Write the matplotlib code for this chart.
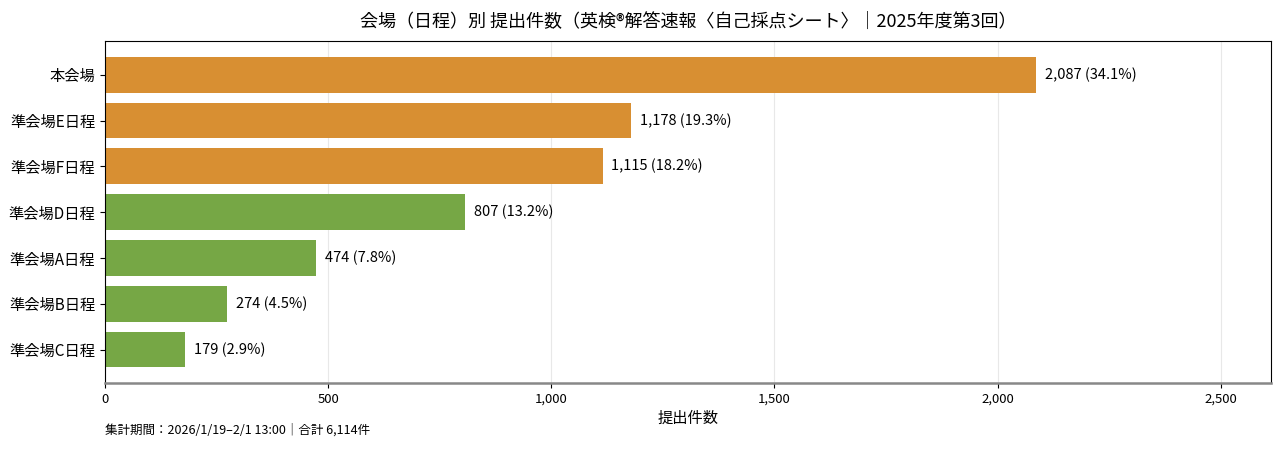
import matplotlib
matplotlib.use("Agg")
import matplotlib.pyplot as plt
from matplotlib.ticker import FuncFormatter

plt.rcParams['font.family'] = ['Noto Sans CJK JP', 'DejaVu Sans']

# データ
venues = ["本会場", "準会場E日程", "準会場F日程", "準会場D日程", "準会場A日程", "準会場B日程", "準会場C日程"]
counts = [2087, 1178, 1115, 807, 474, 274, 179]
shares = [34.1, 19.3, 18.2, 13.2, 7.8, 4.5, 2.9]
groups = ["orange", "orange", "orange", "green", "green", "green", "green"]

palette = {"orange": "#D88F32", "green": "#76A745"}
colors = [palette[g] for g in groups]
total = sum(counts)

fig, ax = plt.subplots(figsize=(12.8, 4.49), dpi=100)
fig.subplots_adjust(left=0.082, right=0.993, top=0.908, bottom=0.147)

y = list(range(len(venues)))
ax.barh(y, counts, height=0.78, color=colors, zorder=2)
ax.set_yticks(y)
ax.set_yticklabels(venues, fontsize=11)
ax.invert_yaxis()

for yi, c, s in zip(y, counts, shares):
    ax.text(c + 20, yi, f"{c:,} ({s}%)", va="center", ha="left", fontsize=10.5)

ax.set_xlim(0, max(counts) * 1.252)
ax.set_xticks([0, 500, 1000, 1500, 2000, 2500])
ax.xaxis.set_major_formatter(FuncFormatter(lambda v, p: f"{int(v):,}"))
ax.tick_params(axis="x", labelsize=9.5)
ax.grid(axis="x", color="#e8e8e8", linewidth=0.8, zorder=0)
ax.set_axisbelow(True)
ax.set_xlabel("提出件数", fontsize=11, labelpad=3)

ax.spines["bottom"].set_color("#888888")
ax.spines["bottom"].set_linewidth(1.8)

ax.set_title("会場（日程）別 提出件数（英検®解答速報〈自己採点シート〉｜2025年度第3回）", fontsize=13, pad=10)

fig.text(0.082, 0.035, f"集計期間：2026/1/19–2/1 13:00｜合計 {total:,}件", fontsize=9, ha="left")

fig.savefig("out.png", dpi=100)
